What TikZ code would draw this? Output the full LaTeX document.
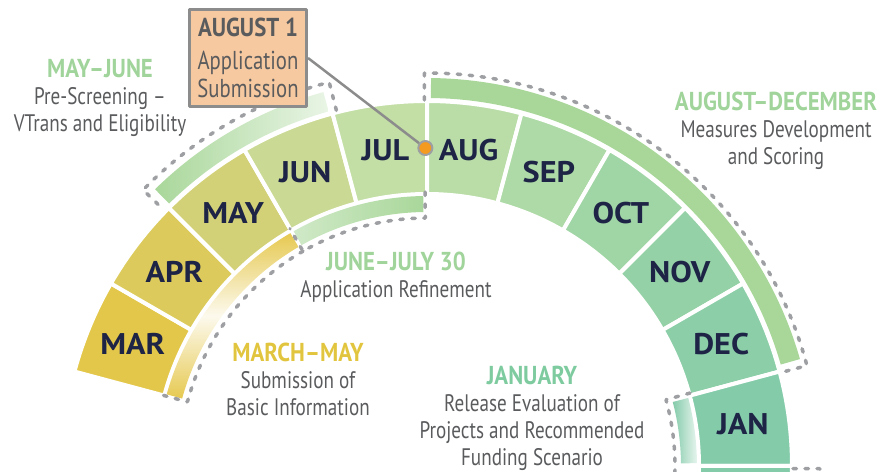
\documentclass[tikz,border=0pt]{standalone}
\usepackage{fontspec}
\setmainfont{PT Sans}
\newfontfamily\narrowfont{PT Sans}[FakeStretch=0.8]
\newfontfamily\headfont{PT Sans}[FakeStretch=0.88]
\newfontfamily\monthfont{PT Sans}[FakeStretch=1.08]
\definecolor{c_mar}{HTML}{E3C74A}
\definecolor{c_apr}{HTML}{DCCB5C}
\definecolor{c_may}{HTML}{D3D177}
\definecolor{c_jun}{HTML}{CAD993}
\definecolor{c_jul}{HTML}{C3DFA5}
\definecolor{c_aug}{HTML}{BADDA8}
\definecolor{c_sep}{HTML}{ADDAA6}
\definecolor{c_oct}{HTML}{A0D5A5}
\definecolor{c_nov}{HTML}{95D1A6}
\definecolor{c_dec}{HTML}{8BCEA8}
\definecolor{c_jan}{HTML}{84CBAA}
\definecolor{navy}{HTML}{1D2445}
\definecolor{txtgray}{HTML}{5A5B5D}
\definecolor{dashgray}{HTML}{9D9FA2}
\definecolor{boxgray}{HTML}{8C8C8C}
\definecolor{c_peach}{HTML}{F7C9A0}
\definecolor{c_orange}{HTML}{F39A1F}
\definecolor{hd_green}{HTML}{A0D49B}
\definecolor{hd_yellow}{HTML}{E2C53E}
\definecolor{hd_teal}{HTML}{7FCBA0}
\definecolor{b_green}{HTML}{A9D79A}
\definecolor{b_yellow}{HTML}{E6C951}
\newcommand{\headline}[2]{\textcolor{#1}{\headfont\bfseries\fontsize{26}{27}\selectfont #2}}
\begin{document}
\begin{tikzpicture}[>=latex,line join=bevel,
  month/.style={font=\monthfont\fontsize{30}{32}\selectfont\bfseries,text=navy},
  note/.style={font=\narrowfont\fontsize{24}{27}\selectfont,text=txtgray,align=center},
  seg/.style={draw=white,line width=4bp},
  plan/.style={draw=dashgray,line width=3.5bp,dash pattern=on 3.5bp off 8.5bp,line cap=round},
]
\useasboundingbox (0,0) rectangle (880bp,472bp);
\clip (0,0) rectangle (880bp,472bp);
%%
\begin{scope}[shift={(427bp,6bp)}]
  \path [seg,fill=c_mar] (150:272bp) -- (150:365bp) arc[start angle=150,end angle=165,radius=365bp] -- (165:272bp) arc[start angle=165,end angle=150,radius=272bp] -- cycle;
  \path [seg,fill=c_apr] (135:272bp) -- (135:365bp) arc[start angle=135,end angle=150,radius=365bp] -- (150:272bp) arc[start angle=150,end angle=135,radius=272bp] -- cycle;
  \path [seg,fill=c_may] (120:272bp) -- (120:365bp) arc[start angle=120,end angle=135,radius=365bp] -- (135:272bp) arc[start angle=135,end angle=120,radius=272bp] -- cycle;
  \path [seg,fill=c_jun] (105:272bp) -- (105:365bp) arc[start angle=105,end angle=120,radius=365bp] -- (120:272bp) arc[start angle=120,end angle=105,radius=272bp] -- cycle;
  \path [seg,fill=c_jul] (90:272bp) -- (90:365bp) arc[start angle=90,end angle=105,radius=365bp] -- (105:272bp) arc[start angle=105,end angle=90,radius=272bp] -- cycle;
  \path [seg,fill=c_aug] (75:272bp) -- (75:365bp) arc[start angle=75,end angle=90,radius=365bp] -- (90:272bp) arc[start angle=90,end angle=75,radius=272bp] -- cycle;
  \path [seg,fill=c_sep] (60:272bp) -- (60:365bp) arc[start angle=60,end angle=75,radius=365bp] -- (75:272bp) arc[start angle=75,end angle=60,radius=272bp] -- cycle;
  \path [seg,fill=c_oct] (45:272bp) -- (45:365bp) arc[start angle=45,end angle=60,radius=365bp] -- (60:272bp) arc[start angle=60,end angle=45,radius=272bp] -- cycle;
  \path [seg,fill=c_nov] (30:272bp) -- (30:365bp) arc[start angle=30,end angle=45,radius=365bp] -- (45:272bp) arc[start angle=45,end angle=30,radius=272bp] -- cycle;
  \path [seg,fill=c_dec] (15:272bp) -- (15:365bp) arc[start angle=15,end angle=30,radius=365bp] -- (30:272bp) arc[start angle=30,end angle=15,radius=272bp] -- cycle;
  \path [seg,fill=c_jan] (0:272bp) -- (0:365bp) arc[start angle=0,end angle=15,radius=365bp] -- (15:272bp) arc[start angle=15,end angle=0,radius=272bp] -- cycle;
  \path [seg,fill=c_jan] (-15:272bp) -- (-15:365bp) arc[start angle=-15,end angle=0,radius=365bp] -- (0:272bp) arc[start angle=0,end angle=-15,radius=272bp] -- cycle;
%
  \shade [left color=b_green,right color=b_green!25!white] (105.5:368bp) -- (105.5:388bp) arc[start angle=105.5,end angle=134.5,radius=388bp] -- (134.5:368bp) arc[start angle=134.5,end angle=105.5,radius=368bp] -- cycle;
  \shade [left color=b_green,middle color=b_green!8!white,right color=b_green] (16:368bp) -- (16:388bp) arc[start angle=16,end angle=89.4,radius=388bp] -- (89.4:368bp) arc[start angle=89.4,end angle=16,radius=368bp] -- cycle;
  \shade [left color=b_green!55!white,middle color=b_green!15!white,right color=b_green] (90.8:254bp) -- (90.8:270bp) arc[start angle=90.8,end angle=119.6,radius=270bp] -- (119.6:254bp) arc[start angle=119.6,end angle=90.8,radius=254bp] -- cycle;
  \shade [top color=b_yellow,bottom color=b_yellow,middle color=b_yellow!10!white] (120.4:254bp) -- (120.4:270bp) arc[start angle=120.4,end angle=164.6,radius=270bp] -- (164.6:254bp) arc[start angle=164.6,end angle=120.4,radius=254bp] -- cycle;
  \shade [left color=c_jan,right color=c_jan!20!white] (0.6:254bp) -- (0.6:270bp) arc[start angle=0.6,end angle=14.6,radius=270bp] -- (14.6:254bp) arc[start angle=14.6,end angle=0.6,radius=254bp] -- cycle;
  \fill [c_jan!80!white] (-1:368bp) -- (-1:388bp) arc[start angle=-1,end angle=-15,radius=388bp] -- (-15:368bp) arc[start angle=-15,end angle=-1,radius=368bp] -- cycle;
%
  \draw [plan] (104.3:367bp) -- (104.3:396bp) arc[start angle=104.3,end angle=135.8,radius=396bp] -- (135.8:372bp);
  \draw [plan] (90.4:366bp) -- (90.4:393bp) arc[start angle=90.4,end angle=14.8,radius=393bp] -- (14.8:367bp);
  \draw [plan] (90.4:274bp) -- (90.4:248bp) arc[start angle=90.4,end angle=120,radius=248bp] -- (120:274bp);
  \draw [plan] (120:248bp) arc[start angle=120,end angle=165,radius=248bp] -- (165:273bp);
  \draw [plan] (15.5:273bp) -- (15.5:248bp) arc[start angle=15.5,end angle=-10,radius=248bp];
  \draw [plan] (-0.4:366bp) -- (-0.4:393bp) arc[start angle=-0.4,end angle=-10,radius=393bp];
%
  \node (mar) at (157.5:318.5bp) [month] {MAR};
  \node (apr) at (142.5:318.5bp) [month] {APR};
  \node (may) at (127.5:318.5bp) [month] {MAY};
  \node (jun) at (112.5:318.5bp) [month] {JUN};
  \node (jul) at (97.5:318.5bp) [month] {JUL};
  \node (aug) at (82.5:318.5bp) [month] {AUG};
  \node (sep) at (67.5:318.5bp) [month] {SEP};
  \node (oct) at (52.5:318.5bp) [month] {OCT};
  \node (nov) at (37.5:318.5bp) [month] {NOV};
  \node (dec) at (22.5:318.5bp) [month] {DEC};
  \node (jan) at (7.5:318.5bp) [month] {JAN};
  \node (dot) at (90.3:318bp) [circle,fill=c_orange,draw=dashgray,line width=2bp,minimum size=14bp,inner sep=0bp] {};
\end{scope}
%%
\node (note_mayjune) at (100bp,374bp) [note] {\headline{hd_green}{MAY–JUNE}\\Pre-Screening –\\VTrans and Eligibility};
\node (note_augdec) at (776bp,341bp) [note] {\headline{hd_green}{AUGUST–DECEMBER}\\Measures Development\\and Scoring};
\node (note_junejuly) at (396bp,195bp) [note] {\headline{hd_green}{JUNE–JULY 30}\\Application Refinement};
\node (note_marmay) at (298bp,93bp) [note] {\headline{hd_yellow}{MARCH–MAY}\\Submission of\\Basic Information};
\node (note_jan) at (532bp,54bp) [note] {\headline{hd_teal}{JANUARY}\\Release Evaluation of\\Projects and Recommended\\Funding Scenario};
\node (box) at (248bp,414bp) [note,font=\narrowfont\fontsize{26}{28.5}\selectfont,draw=boxgray,fill=c_peach,line width=3bp,minimum width=117bp,minimum height=97bp,inner sep=0bp] {\headline{txtgray}{AUGUST 1}\\[5bp]Application\\Submission};
\draw [boxgray,line width=2.5bp] (box.east) -- (dot);
%
\end{tikzpicture}
\end{document}
